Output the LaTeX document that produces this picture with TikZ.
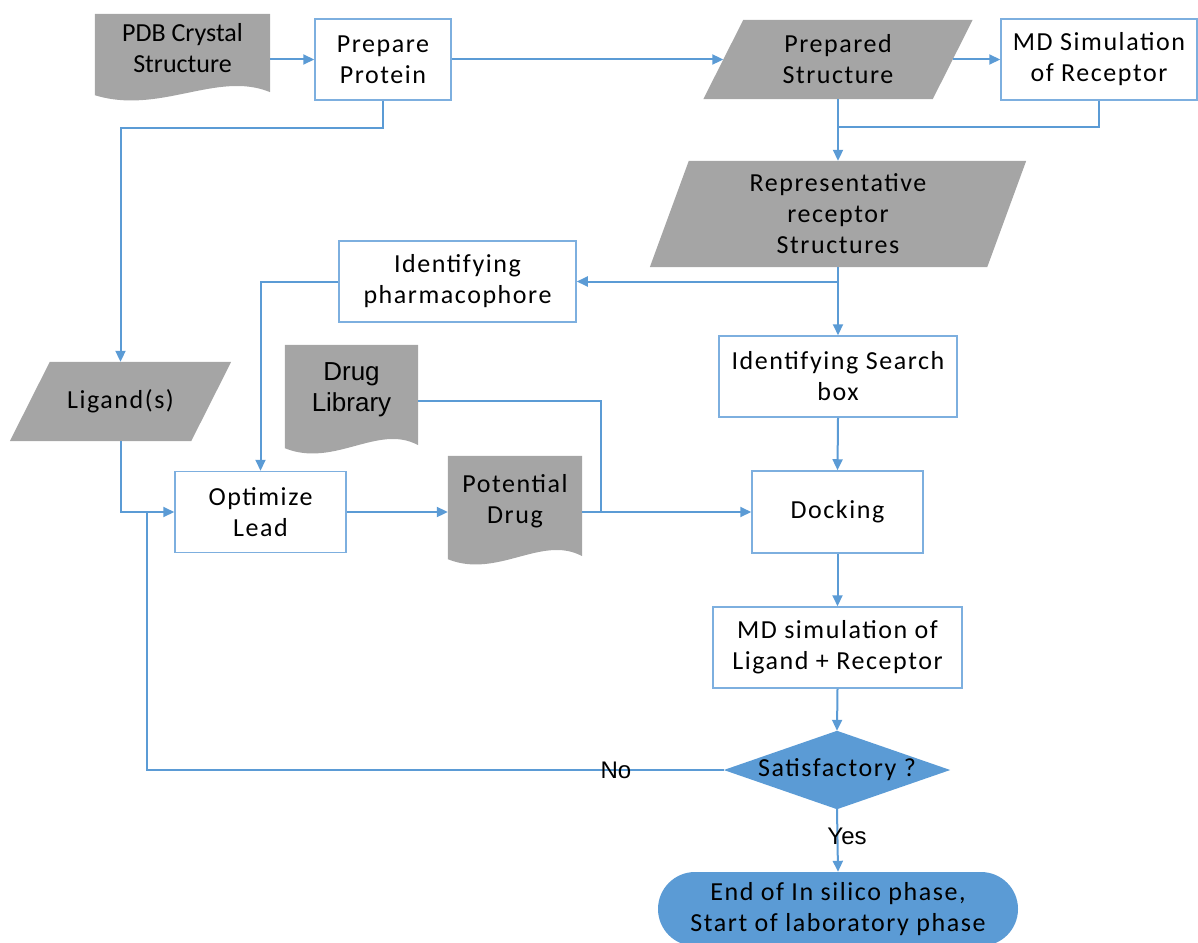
\documentclass[tikz,border=0pt]{standalone}
\usepackage{fontspec}
\setmainfont{Carlito}[LetterSpace=6]
\newfontfamily\plainfont{Carlito}
\newfontfamily\arialfont{Liberation Sans}
\usetikzlibrary{arrows.meta,calc}
\pgfdeclarelayer{background}
\pgfsetlayers{background,main}
\definecolor{flowblue}{HTML}{5B9BD5}
\definecolor{boxline}{HTML}{7DAFDF}
\definecolor{shapegray}{HTML}{A5A5A5}
\tikzset{
  base/.style={inner sep=0pt, align=center, font=\fontsize{26}{31}\selectfont},
  procbox/.style={base, draw=boxline, line width=1.5pt, fill=white},
  shapebox/.style={base},
  conn/.style={draw=flowblue, line width=2pt, -{Triangle[length=11pt,width=10pt]}},
  link/.style={draw=flowblue, line width=2pt},
  answer/.style={inner sep=0pt, font=\arialfont\fontsize{24}{28}\selectfont},
}
% grey document shape with a wavy lower edge, built on a node's box
\newcommand\docshape[1]{%
  \fill[shapegray] (#1.north west) -- (#1.north east) -- ($(#1.south east)+(0,10)$)
    .. controls ($(#1.south east)!0.3!(#1.south west)+(0,-12)$)
           and ($(#1.south east)!0.63!(#1.south west)+(0,33)$)
    .. ($(#1.south west)+(0,13)$) -- cycle;}
% grey parallelogram (data shape) built on a node's box, #2 = half slant
\newcommand\parashape[2]{%
  \fill[shapegray] ($(#1.north west)+(#2,0)$) -- ($(#1.north east)+(#2,0)$)
    -- ($(#1.south east)-(#2,0)$) -- ($(#1.south west)-(#2,0)$) -- cycle;}
\begin{document}
\begin{tikzpicture}[x=1pt,y=-1pt]
\useasboundingbox (0,0) rectangle (1198,942);
\clip (0,0) rectangle (1198,942);

% nodes
\node[shapebox, minimum width=175, minimum height=68, font=\plainfont\fontsize{26}{31}\selectfont] (pdb) at (182.5,48) {PDB Crystal\\Structure};
\node[procbox, minimum width=136, minimum height=81] (pp) at (383,59.5) {Prepare\\Protein};
\node[shapebox, minimum width=229, minimum height=79] (ps) at (838,59.5) {Prepared\\Structure};
\node[procbox, minimum width=196, minimum height=81] (mdr) at (1099,59.5) {MD Simulation\\of Receptor};
\node[shapebox, minimum width=337, minimum height=106] (rep) at (838,214) {Representative\\receptor\\Structures};
\node[procbox, minimum width=237, minimum height=81] (pharm) at (457.5,281.5) {Identifying\\pharmacophore};
\node[procbox, minimum width=238, minimum height=81] (search) at (838,376.5) {Identifying Search\\box};
\node[shapebox, minimum width=181, minimum height=79] (lig) at (120.5,401.5) {Ligand(s)};
\node[shapebox, minimum width=133, minimum height=90, font=\arialfont\fontsize{26}{31}\selectfont] (dl) at (351.5,390) {Drug\\Library};
\node[procbox, minimum width=171, minimum height=81] (opt) at (260.5,512) {Optimize\\Lead};
\node[shapebox, minimum width=134, minimum height=90] (pd) at (515,501) {Potential\\Drug};
\node[procbox, minimum width=171, minimum height=82] (dock) at (837.5,512) {Docking};
\node[procbox, minimum width=249, minimum height=81] (mdl) at (837.5,647.5) {MD simulation of\\Ligand + Receptor};
\node[shapebox, minimum width=226, minimum height=78] (sat) at (837,770) {Satisfactory ?};
\node[base, fill=flowblue, rounded corners=37pt, minimum width=360, minimum height=74] (term) at (838,909) {End of In silico phase,\\Start of laboratory phase};

% filled shapes behind the texts
\begin{pgfonlayer}{background}
  \docshape{pdb}
  \docshape{dl}
  \docshape{pd}
  \parashape{ps}{20}
  \parashape{rep}{19.5}
  \parashape{lig}{20}
  \fill[flowblue] (sat.west) -- (sat.north) -- (sat.east) -- (sat.south) -- cycle;
\end{pgfonlayer}

% connectors
\draw[conn] (pdb.east |- pp.west) -- (pp.west);
\draw[conn] (pp.east) -- (ps.west);
\draw[conn] (ps.east) -- (mdr.west);
\draw[conn] (pp.south) -- ++(0,27) -| (lig.north);
\coordinate (j1) at ($(ps.south)+(0,28)$);
\draw[link] (mdr.south) |- (j1);
\draw[conn] (ps.south) -- (rep.north);
\draw[conn] (rep.south) -- (search.north);
\draw[conn] (rep.south |- pharm.east) -- (pharm.east);
\draw[conn] (pharm.west) -| (opt.north);
\draw[conn] (lig.south) |- (opt.west);
\draw[conn] (opt.east) -- (opt.east -| pd.west);
\draw[conn] (pd.east |- dock.west) -- (dock.west);
\coordinate (j2) at ($(pd.east |- dock.west)+(19,0)$);
\draw[link] ($(dl.east)+(0,11)$) -| (j2);
\draw[conn] (search.south) -- (dock.north);
\draw[conn] (dock.south) -- (mdl.north);
\draw[conn] (mdl.south) -- (sat.north);
\coordinate (j3) at ($(opt.west)+(-27,0)$);
\draw[link] (sat.west) -| (j3);
\node[answer] (no) at (616,770) {No};
\draw[conn] (sat.south) -- (term.north);
\node[answer] (yes) at (847,836) {Yes};
\end{tikzpicture}
\end{document}
